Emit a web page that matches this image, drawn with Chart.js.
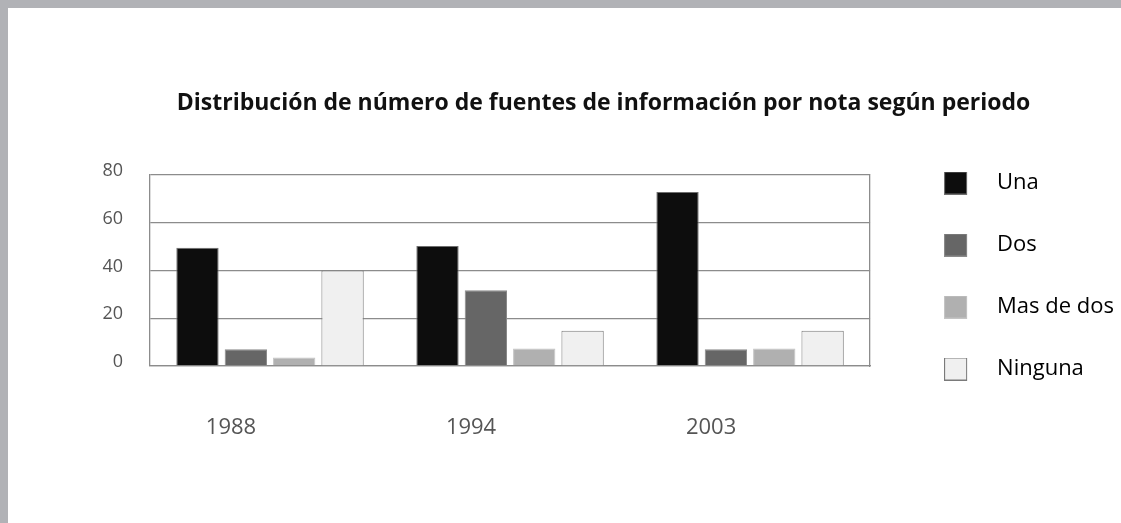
<!DOCTYPE html>
<html>
<head>
<meta charset="utf-8">
<script src="https://cdn.jsdelivr.net/npm/chart.js@4.4.1/dist/chart.umd.min.js"></script>
<style>
  html, body { margin: 0; padding: 0; }
  body { width: 1121px; height: 523px; background: #b1b2b6; position: relative; overflow: hidden; }
  #wrap { position: absolute; left: 8px; top: 8px; width: 1113px; height: 515px; background: #ffffff; }
  canvas { display: block; }
</style>
</head>
<body>
<div id="wrap"><canvas id="c" width="1113" height="515"></canvas></div>
<script>
const titleText = 'Distribución de número de fuentes de información por nota según periodo';
const categories = ['1988', '1994', '2003'];
const seriesNames = ['Una', 'Dos', 'Mas de dos', 'Ninguna'];
const una = [49.5, 50.3, 72.9];
const dos = [7.0, 31.7, 7.0];
const masDeDos = [3.6, 7.3, 7.3];
const ninguna = [40.0, 14.8, 14.8];
const yTicks = [0, 20, 40, 60, 80];

const fills = ['#0d0d0d', '#666666', '#b0b0b0', '#f0f0f0'];
const strokes = ['#6e6e6e', '#8a8a8a', '#c4c4c4', '#7a7a7a'];
const values = [una, dos, masDeDos, ninguna];

function swatch(fill, stroke) {
  const c = document.createElement('canvas');
  c.width = 42; c.height = 23;
  const g = c.getContext('2d');
  g.fillStyle = fill;
  g.fillRect(0, 0, 23, 23);
  g.strokeStyle = stroke;
  g.lineWidth = 1;
  g.strokeRect(0.5, 0.5, 22, 22);
  return c;
}

const datasets = seriesNames.map((name, i) => ({
  label: name,
  data: values[i],
  backgroundColor: fills[i],
  borderColor: strokes[i],
  borderWidth: 1,
  categoryPercentage: 0.806,
  barPercentage: 0.875
}));

const gridColor = '#8c8c8c';

new Chart(document.getElementById('c'), {
  type: 'bar',
  data: { labels: categories, datasets },
  options: {
    responsive: false,
    animation: false,
    layout: { padding: { top: 21, left: 75, right: -3, bottom: 0 } },
    plugins: {
      tooltip: { enabled: false },
      title: {
        display: true,
        text: titleText,
        color: '#111111',
        font: { family: "'Open Sans', sans-serif", size: 23, weight: 'bold' },
        padding: { top: 61, bottom: 57.4 }
      },
      legend: {
        position: 'right',
        align: 'center',
        maxWidth: 320,
        labels: {
          usePointStyle: true,
          pointStyleWidth: 42,
          padding: 40,
          color: '#1a1a1a',
          font: { family: "'Open Sans', sans-serif", size: 22 },
          generateLabels: (chart) => chart.data.datasets.map((ds, i) => ({
            text: ds.label,
            fillStyle: fills[i],
            strokeStyle: strokes[i],
            lineWidth: 0,
            pointStyle: swatch(fills[i], strokes[i]),
            datasetIndex: i,
            hidden: false
          }))
        }
      }
    },
    scales: {
      x: {
        grid: { display: false, drawTicks: false },
        border: { display: true, color: gridColor, width: 1.3 },
        ticks: {
          color: '#555555',
          font: { family: "'Open Sans', sans-serif", size: 22 },
          padding: 49,
          labelOffset: -39
        },
        afterFit: (s) => { s.height = 157; }
      },
      y: {
        min: 0,
        max: 80,
        afterBuildTicks: (s) => { s.ticks = yTicks.map(v => ({ value: v })); },
        grid: { color: gridColor, lineWidth: 1.3, drawTicks: false },
        border: { display: true, color: gridColor, width: 1.3 },
        ticks: {
          color: '#555555',
          font: { family: "'Open Sans', sans-serif", size: 18 },
          padding: 27,
          labelOffset: -4
        },
        afterFit: (s) => { s.width = 67; }
      },
      edge: {
        type: 'linear',
        position: 'right',
        display: true,
        grid: { display: false, drawTicks: false },
        ticks: { display: false },
        border: { display: true, color: gridColor, width: 1.3 },
        afterFit: (s) => { s.width = 34; }
      }
    }
  }
});
</script>
</body>
</html>
